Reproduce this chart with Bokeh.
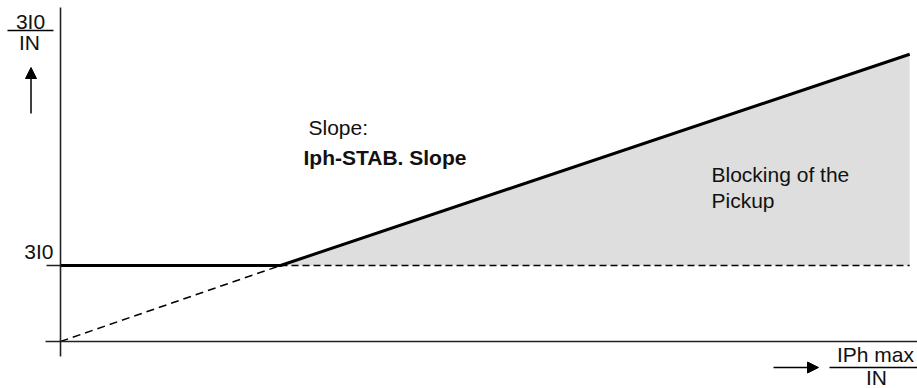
from bokeh.plotting import figure
from bokeh.models import Range1d, Label, Arrow, NormalHead
from bokeh.embed import file_html
from bokeh.resources import INLINE

# ---- data (characteristic in per-unit) ----
threshold_3I0 = 1.0          # 3I0 pickup level
knee_x = 2.0                 # where slope meets threshold
curve_x = [0.0, knee_x, 7.72]
curve_y = [threshold_3I0, threshold_3I0, 3.78]
ext_x = [0.0, knee_x]        # dashed extension of slope to origin
ext_y = [0.0, threshold_3I0]
block_x = [knee_x, 7.72]
block_upper = [threshold_3I0, 3.78]
block_lower = [threshold_3I0, threshold_3I0]

# ---- layout helpers (reference pixel -> data) ----
OX, OY, SX, SY = 60, 341, 110.0, 76.0
def dx(px): return (px - OX) / SX
def dy(py): return (OY - py) / SY

W, H = 917, 388
p = figure(width=W, height=H, output_backend="svg", toolbar_location=None,
           x_range=Range1d(dx(0), dx(W)), y_range=Range1d(dy(H), dy(0)),
           x_axis_type=None, y_axis_type=None, min_border=0)
p.grid.visible = False
p.outline_line_color = None
p.background_fill_color = "white"

# blocking area
p.varea(x=block_x, y1=block_lower, y2=block_upper, fill_color="#dedede")
# dashed lines
p.line(ext_x, ext_y, line_color="black", line_width=1.5, line_dash="8 5")
p.line(block_x, block_lower, line_color="black", line_width=1.5, line_dash="7 4")
# characteristic
p.line(curve_x, curve_y, line_color="black", line_width=3)

# axes (decoration)
p.segment(x0=[dx(60), dx(45), dx(46)], y0=[dy(7), 0, threshold_3I0],
          x1=[dx(60), dx(917), dx(60)], y1=[dy(356), 0, threshold_3I0],
          line_color="#222222", line_width=1.6)

FONT = "Liberation Sans"
FS = "21px"
TOFF = 8  # baseline compensation
def lab(text, px, py, size=FS, style="normal", align="left"):
    p.add_layout(Label(x=dx(px), y=dy(py - TOFF), text=text, text_font=FONT,
                       text_font_size=size, text_font_style=style,
                       text_align=align, text_baseline="alphabetic",
                       text_color="#111111"))

# y-axis fraction label
lab("3I0", 30, 29, align="center")
p.segment(x0=[dx(7)], y0=[dy(30)], x1=[dx(53)], y1=[dy(30)], line_color="black", line_width=1.5)
lab("IN", 29, 50, align="center")
p.add_layout(Arrow(x_start=dx(30.5), y_start=dy(113), x_end=dx(30.5), y_end=dy(67),
                   line_width=1.5, line_color="black",
                   end=NormalHead(size=11, fill_color="black", line_color="black")))

# threshold tick label
lab("3I0", 53, 259, align="right")

# x-axis fraction label
p.add_layout(Arrow(x_start=dx(773), y_start=dy(367), x_end=dx(818), y_end=dy(367),
                   line_width=1.5, line_color="black",
                   end=NormalHead(size=11, fill_color="black", line_color="black")))
lab("IPh max", 875, 362, align="center")
p.segment(x0=[dx(829)], y0=[dy(367)], x1=[dx(917)], y1=[dy(367)], line_color="black", line_width=1.5)
lab("IN", 876, 385, align="center")

# annotations
lab("Slope:", 308, 135)
lab("Iph-STAB. Slope", 303, 165, style="bold")
lab("Blocking of the", 711, 182)
lab("Pickup", 711, 208)

open("out.html", "w").write(file_html(p, INLINE))
